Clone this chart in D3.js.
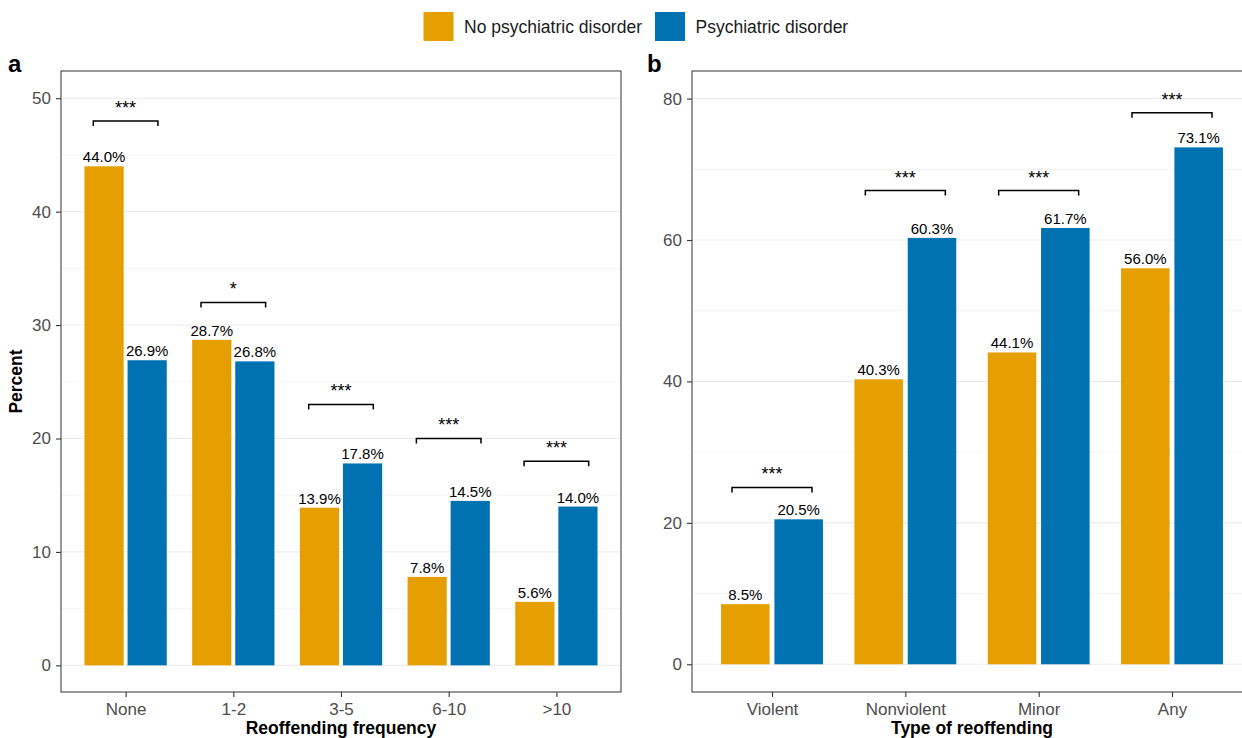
<!DOCTYPE html>
<html>
<head>
<meta charset="utf-8">
<script src="https://cdn.jsdelivr.net/npm/d3@7"></script>
<style>
  html, body { margin: 0; padding: 0; background: #fff; }
  svg { display: block; font-family: "Liberation Sans", Arial, Helvetica, sans-serif; }
</style>
</head>
<body>
<svg id="chart" width="1242" height="738"></svg>
<script>
// Panel a: reoffending frequency
const freqCategories = ["None", "1-2", "3-5", "6-10", ">10"];
const freqNoDisorder = [44.0, 28.7, 13.9, 7.8, 5.6];
const freqDisorder   = [26.9, 26.8, 17.8, 14.5, 14.0];
const freqSignif     = ["***", "*", "***", "***", "***"];
const freqBracketAt  = [48, 32, 23, 20, 18];
const freqTicks      = [0, 10, 20, 30, 40, 50];

// Panel b: type of reoffending
const typeCategories = ["Violent", "Nonviolent", "Minor", "Any"];
const typeNoDisorder = [8.5, 40.3, 44.1, 56.0];
const typeDisorder   = [20.5, 60.3, 61.7, 73.1];
const typeSignif     = ["***", "***", "***", "***"];
const typeBracketAt  = [25, 67, 67, 78];
const typeTicks      = [0, 20, 40, 60, 80];

const seriesNames  = ["No psychiatric disorder", "Psychiatric disorder"];
const seriesColors = ["#E69F00", "#0072B2"];

const svg = d3.select("#chart");
const FONT_TICK = 17, FONT_VALUE = 15, FONT_TITLE = 17.5;

function drawPanel(cfg) {
  const { left, right, top, bottom, cats, a, b, sig, bracket, yDomain, majors, minors, tag, xTitle, yTitle } = cfg;
  const g = svg.append("g");

  const x = d3.scalePoint().domain(cats).range([left, right]).padding(0.6);
  const y = d3.scaleLinear().domain(yDomain).range([bottom, top]);
  const step = x.step();
  const slot = step * 0.4;
  const barW = slot * 0.91;

  // grid
  g.append("g").selectAll("line").data(minors).join("line")
    .attr("x1", left).attr("x2", right)
    .attr("y1", d => y(d)).attr("y2", d => y(d))
    .attr("stroke", "#f0f0f0").attr("stroke-width", 0.8);
  g.append("g").selectAll("line").data(majors).join("line")
    .attr("x1", left).attr("x2", right)
    .attr("y1", d => y(d)).attr("y2", d => y(d))
    .attr("stroke", "#ebebeb").attr("stroke-width", 1.1);

  // bars
  const rows = [];
  cats.forEach((c, i) => {
    rows.push({ cat: c, s: 0, v: a[i] });
    rows.push({ cat: c, s: 1, v: b[i] });
  });
  const cx = d => x(d.cat) + (d.s === 0 ? -slot / 2 : slot / 2);
  g.append("g").selectAll("rect").data(rows).join("rect")
    .attr("x", d => cx(d) - barW / 2)
    .attr("width", barW)
    .attr("y", d => y(d.v))
    .attr("height", d => y(0) - y(d.v))
    .attr("fill", d => seriesColors[d.s]);

  // value labels
  g.append("g").selectAll("text").data(rows).join("text")
    .attr("x", d => cx(d))
    .attr("y", d => y(d.v) - 4)
    .attr("text-anchor", "middle")
    .attr("font-size", FONT_VALUE)
    .attr("fill", "#000")
    .text(d => d.v.toFixed(1) + "%");

  // significance brackets
  const half = step * 0.3, tip = 5;
  const br = g.append("g").selectAll("g").data(cats).join("g");
  br.append("path")
    .attr("d", (c, i) => {
      const yy = y(bracket[i]);
      return `M${x(c) - half},${yy + tip}V${yy}H${x(c) + half}V${yy + tip}`;
    })
    .attr("fill", "none").attr("stroke", "#000").attr("stroke-width", 1.5);
  br.append("text")
    .attr("x", c => x(c))
    .attr("y", (c, i) => y(bracket[i]) - 7)
    .attr("text-anchor", "middle")
    .attr("font-size", 18)
    .attr("fill", "#000")
    .text((c, i) => sig[i]);

  // panel border
  g.append("rect")
    .attr("x", left).attr("y", top)
    .attr("width", right - left).attr("height", bottom - top)
    .attr("fill", "none").attr("stroke", "#333").attr("stroke-width", 1);

  // axes
  const yAxis = g.append("g").attr("transform", `translate(${left},0)`)
    .call(d3.axisLeft(y).tickValues(majors).tickSize(5).tickPadding(5));
  const xAxis = g.append("g").attr("transform", `translate(0,${bottom})`)
    .call(d3.axisBottom(x).tickSize(5).tickPadding(6));
  [yAxis, xAxis].forEach(ax => {
    ax.select(".domain").remove();
    ax.selectAll(".tick line").attr("stroke", "#333").attr("stroke-width", 1.1);
    ax.selectAll(".tick text").attr("fill", "#4d4d4d").attr("font-size", FONT_TICK)
      .attr("font-family", "Liberation Sans, Arial, sans-serif");
  });

  // titles
  g.append("text")
    .attr("x", (left + right) / 2).attr("y", 734)
    .attr("text-anchor", "middle").attr("font-weight", "bold")
    .attr("font-size", FONT_TITLE).attr("fill", "#000")
    .text(xTitle);
  if (yTitle) {
    g.append("text")
      .attr("transform", `translate(22,${(top + bottom) / 2}) rotate(-90)`)
      .attr("text-anchor", "middle").attr("font-weight", "bold")
      .attr("font-size", FONT_TITLE).attr("fill", "#000")
      .text(yTitle);
  }
  g.append("text")
    .attr("x", cfg.tagX).attr("y", 71.5)
    .attr("font-weight", "bold").attr("font-size", 24).attr("fill", "#000")
    .text(tag);
}

drawPanel({
  left: 61, right: 621, top: 71, bottom: 692,
  cats: freqCategories, a: freqNoDisorder, b: freqDisorder,
  sig: freqSignif, bracket: freqBracketAt,
  yDomain: [-2.35, 52.4], majors: freqTicks, minors: [5, 15, 25, 35, 45],
  tag: "a", tagX: 8, xTitle: "Reoffending frequency", yTitle: "Percent"
});

drawPanel({
  left: 692, right: 1252, top: 71, bottom: 692,
  cats: typeCategories, a: typeNoDisorder, b: typeDisorder,
  sig: typeSignif, bracket: typeBracketAt,
  yDomain: [-3.92, 83.9], majors: typeTicks, minors: [10, 30, 50, 70],
  tag: "b", tagX: 647, xTitle: "Type of reoffending", yTitle: null
});

// legend
const legend = svg.append("g");
const legendX = [423.5, 655];
seriesNames.forEach((name, i) => {
  legend.append("rect")
    .attr("x", legendX[i]).attr("y", 12)
    .attr("width", 30).attr("height", 29)
    .attr("fill", seriesColors[i]);
  legend.append("text")
    .attr("x", legendX[i] + 40.5).attr("y", 33)
    .attr("font-size", 17.5).attr("fill", "#1a1a1a")
    .text(name);
});
</script>
</body>
</html>
